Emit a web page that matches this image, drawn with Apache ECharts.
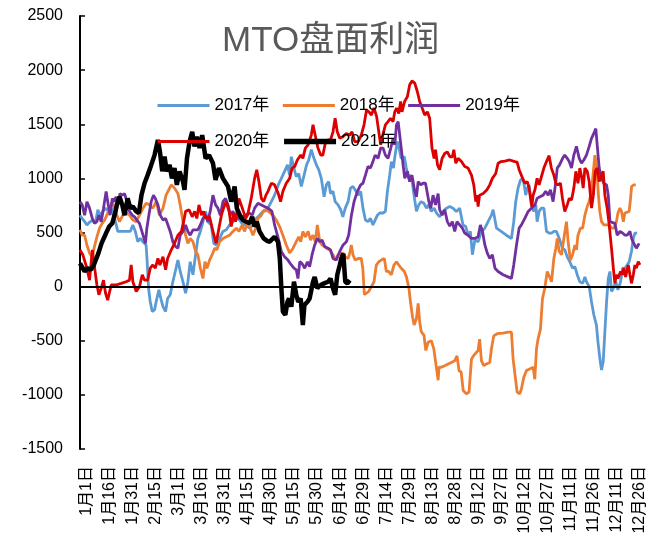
<!DOCTYPE html>
<html>
<head>
<meta charset="utf-8">
<script src="https://cdn.jsdelivr.net/npm/echarts@6/dist/echarts.min.js"></script>
<style>
  html, body { margin: 0; padding: 0; background: #fff; }
  #main { width: 665px; height: 545px; }
</style>
</head>
<body>
<div id="main"></div>
<script>
// x 轴刻度（以闰年为基准，每 15 天一个）
const tickLabels = ["1月1日", "1月16日", "1月31日", "2月15日", "3月1日", "3月16日", "3月31日",
  "4月15日", "4月30日", "5月15日", "5月30日", "6月14日", "6月29日", "7月14日", "7月29日",
  "8月13日", "8月28日", "9月12日", "9月27日", "10月12日", "10月27日", "11月11日", "11月26日",
  "12月11日", "12月26日"];

// [第几天, 利润]
const data2017 = [[0,660],[1.4,630],[3,600],[4.5,570],[6.2,595],[8.4,615],[10,585],[11.6,710],[13,660],[14.9,695],[16.6,725],[18.8,695],[20.3,725],[22.5,630],[24.6,510],[26.8,510],[30,510],[32.7,510],[34.4,570],[36,510],[37.6,415],[39.2,445],[40.9,415],[42,430],[43,385],[43.7,230],[44.6,-15],[45.7,-140],[47,-230],[48.5,-215],[50,-110],[51.3,-30],[52.6,-110],[54,-185],[55.7,-230],[57,-110],[58.7,-75],[60.4,45],[62,140],[63.7,245],[65.2,140],[67,45],[68.7,-60],[70.2,45],[71.7,230],[73.5,110],[75.2,295],[76.7,445],[78.3,510],[79.5,570],[81.7,695],[83.2,600],[85.4,570],[87,400],[88.7,385],[90.8,445],[93,510],[95.2,525],[97.3,570],[99.5,600],[101.7,630],[103.8,615],[106,570],[108,570],[110.4,540],[112.5,570],[114.7,630],[116.8,660],[119,695],[120.5,700],[122.3,725],[124.5,785],[126.6,845],[129,940],[131,1000],[133.1,1065],[135,1125],[136.4,1030],[137.5,1200],[139.2,1095],[140.7,1015],[142.3,1045],[144,925],[145.8,1030],[147.4,1125],[148.8,1170],[150.5,1265],[152.2,1185],[153.8,1125],[155.3,1080],[157,1000],[158.8,830],[160.3,940],[161.8,970],[163,860],[164.6,880],[166,785],[167.9,755],[169.6,710],[171,645],[172.6,725],[174.4,785],[176,910],[177.6,925],[179,895],[181,845],[182.6,880],[184.1,725],[185.7,615],[187.4,600],[189,630],[190.6,570],[191.7,555],[193.5,660],[195,680],[197.2,680],[198.7,695],[200,880],[201.5,1030],[202.6,1155],[203.9,1095],[205,1215],[206.5,1340],[207.6,1280],[209,1185],[211,1200],[212.3,1095],[213.8,1000],[215.6,1030],[217.3,845],[218.9,695],[220.4,755],[222,785],[223.8,770],[225.4,725],[226.9,755],[228.6,695],[230.4,725],[232,680],[234,645],[236.2,695],[238.4,725],[240.6,740],[242.7,725],[244.9,695],[247,725],[249.2,570],[251,555],[252.5,475],[254,510],[255.3,295],[256.9,430],[259,415],[261.2,510],[263.4,540],[265.5,600],[267.7,660],[268.8,710],[271,540],[274,510],[277.4,475],[280.7,445],[282.2,600],[283.5,785],[285,910],[286.6,985],[288,1000],[288.8,955],[290,845],[291,910],[292.2,940],[293.7,755],[295.3,695],[296.6,755],[297.4,600],[298.7,695],[300.2,725],[301.8,725],[303.5,510],[305.2,495],[306.8,495],[308.3,510],[310,510],[311.8,445],[313.9,355],[315.4,340],[317,275],[318.7,230],[320.5,170],[322,185],[323.5,110],[325.2,45],[327,30],[328.5,90],[329.5,45],[331.3,0],[332.8,-140],[334.3,-260],[336,-355],[337,-510],[338.2,-660],[339.3,-770],[340.4,-695],[341.5,-415],[342.6,-140],[343.7,75],[344.8,140],[345.8,-45],[347,-15],[348.6,45],[350,-30],[351.7,45],[353,170],[354.5,170],[356,200],[357.3,230],[358.8,325],[360,445],[361,495],[362.5,495]];

const data2018 = [[0,525],[1.4,475],[3,475],[4.5,385],[6.2,310],[8,275],[9.4,370],[11,460],[12.7,540],[14.4,585],[16,615],[17.5,660],[19.2,725],[21,785],[22.5,725],[24,660],[25.7,600],[27.9,660],[30,680],[32.2,660],[34.4,615],[36.6,600],[38.7,660],[41,725],[43,770],[45.3,755],[47.4,725],[49.6,785],[51.7,660],[54,725],[56,845],[58.3,910],[59.4,940],[61.5,910],[63.7,860],[65.2,755],[67,600],[68.7,475],[70.2,400],[71.7,445],[73.5,415],[75.2,325],[76.7,295],[78.3,170],[80,75],[81.3,230],[82.6,170],[84.3,245],[86,295],[87.6,355],[89,340],[90.8,415],[93,445],[95.2,460],[97.3,475],[99.5,510],[101.7,540],[103.4,510],[105.6,570],[107,510],[109.3,600],[110.8,540],[112.5,475],[114.3,540],[115.8,630],[118,660],[120,710],[122.7,695],[125.5,660],[127.7,615],[129.9,555],[132,475],[134.2,385],[136.4,310],[138.6,355],[140.7,415],[142.3,460],[143.6,415],[145,510],[146.6,460],[148.4,510],[150,430],[151.6,475],[153.1,415],[154.4,570],[156,415],[157.5,385],[158.8,400],[160.3,355],[162.4,340],[164.6,295],[166.1,245],[167.9,295],[169.6,310],[171,310],[172.6,275],[174.4,260],[175.5,310],[176.5,385],[177.6,295],[179,245],[181,260],[183,260],[184,170],[185,-75],[186.3,-90],[187.8,-45],[189.6,0],[191.3,45],[192.8,200],[194.4,230],[196,245],[198,260],[199.3,140],[200.8,140],[202.6,110],[204.3,200],[205.9,230],[207.4,200],[209,170],[211,140],[212.4,90],[214,-15],[215,-140],[216.3,-275],[217.4,-355],[218.9,-295],[220,-155],[221,-325],[222,-415],[223.8,-450],[225,-590],[226.5,-515],[228.6,-500],[230.2,-575],[232,-760],[233,-865],[233.6,-745],[235,-745],[237.3,-730],[239.5,-715],[241.6,-700],[243.8,-685],[245.3,-640],[246.6,-775],[248,-790],[249.3,-960],[251.4,-990],[253.1,-975],[254.7,-670],[256.2,-635],[257.5,-620],[259,-590],[260,-485],[261.2,-685],[262.7,-730],[264.4,-715],[266.6,-700],[267.7,-575],[269.2,-455],[271.4,-435],[275.3,-430],[278.5,-420],[280.7,-420],[281.8,-670],[282.9,-685],[284.4,-975],[286.1,-990],[287.2,-945],[288.7,-840],[290.5,-775],[292.6,-760],[294.8,-745],[295.9,-855],[297,-575],[298,-485],[299.6,-390],[300.9,-110],[302.4,-15],[304,140],[305.2,155],[306.8,45],[308.3,260],[309.6,355],[310.5,445],[311.8,325],[313.3,295],[314.8,445],[316.5,600],[317.6,415],[319,245],[320.5,295],[322,385],[323,340],[324,475],[325.6,540],[327,540],[328.5,660],[330,740],[331.3,785],[332.8,880],[334,1065],[335,1215],[336.2,1095],[337.3,845],[338.2,695],[339.3,600],[340.8,570],[342.6,570],[344.3,570],[345.8,540],[347.4,540],[349,600],[350,680],[351.3,725],[352.3,695],[353.5,600],[354.5,680],[355.6,695],[357.3,695],[358.2,815],[358.9,925],[360.3,940],[361.6,940]];

const data2019 = [[0,785],[1.4,755],[3,660],[4.5,785],[6.2,725],[8,630],[9.4,585],[11,600],[12.3,660],[13.8,600],[15.3,725],[17,880],[18.4,755],[19.6,660],[21,815],[22,785],[23.5,830],[24.6,755],[26,860],[27.5,845],[29,860],[30.5,785],[32.2,695],[34,660],[35.5,645],[37,615],[38.7,585],[41,475],[42.6,400],[43.5,540],[44.8,660],[46.3,785],[47.8,845],[49,815],[50.7,755],[52.2,660],[54,615],[55.7,630],[57.2,570],[58.7,510],[60.4,415],[62.2,370],[63.7,355],[65.2,475],[67,510],[68.7,570],[70.2,510],[71.7,475],[73.5,525],[75.2,525],[76.7,525],[78.3,570],[80,630],[81.7,660],[83.2,600],[84.7,695],[86.5,845],[88.2,755],[89.7,725],[91.3,660],[93,785],[94.7,815],[96.3,755],[97.8,660],[99.5,695],[101.2,645],[103.4,630],[105.6,645],[107.8,660],[110,680],[112.1,660],[113.6,725],[115.8,770],[118,755],[120,740],[122.3,725],[124.9,695],[126.6,570],[129,445],[131,325],[133.1,275],[135.3,245],[137.5,200],[139.2,170],[140.7,155],[141.8,75],[143,230],[144.4,215],[146.2,170],[148,230],[149.4,185],[151,295],[152.7,385],[154.4,445],[156,415],[157.5,430],[159.2,370],[161.4,355],[163,340],[164.6,260],[166.8,245],[169,325],[171.2,385],[173.3,415],[174.8,475],[176.6,660],[178.3,785],[180.5,880],[182.6,940],[184.1,955],[185.7,1030],[187.4,1110],[189,1095],[190.6,1155],[192,1215],[193.9,1185],[195.6,1280],[197.2,1280],[198.7,1215],[200.4,1185],[202.2,1280],[203.7,1370],[204.8,1310],[205.9,1495],[207,1525],[208,1510],[209,1280],[210.2,1125],[211.3,1000],[213,1065],[214.5,970],[216,1030],[217.8,880],[218.9,830],[220,970],[221.7,940],[223.2,955],[224.8,955],[226,970],[227,785],[228.2,725],[229.7,845],[231.3,755],[233,860],[234,710],[235.6,660],[237.3,710],[239,600],[240.6,560],[242.3,600],[243.8,510],[245.3,600],[247,570],[248.8,540],[250.3,495],[252.5,475],[254.7,445],[256.9,445],[259,460],[260.5,570],[261.9,510],[263.4,385],[265,310],[266.6,260],[268.3,295],[270,170],[272,140],[275.3,110],[278.5,90],[280.7,75],[282.2,200],[284,385],[285.7,540],[287.2,570],[289.4,630],[291.6,695],[293.7,725],[296,755],[297.4,815],[299.2,830],[301.3,845],[303,880],[304.6,845],[306.1,895],[307.8,785],[309.6,970],[310.5,1095],[312,1125],[314,1185],[315.4,1215],[317,1185],[318.3,1155],[319.8,1095],[321.3,1215],[323,1295],[324.8,1185],[326.3,1140],[327.8,1170],[329.5,1215],[331.3,1295],[332.8,1370],[334.3,1415],[335.6,1460],[336.5,1310],[337.8,1095],[339.3,1000],[340.8,955],[342.6,940],[343.7,845],[344.8,600],[345.8,585],[348,585],[349.5,475],[351.3,510],[353,495],[354.6,475],[356,475],[357.8,510],[358.9,445],[360.3,400],[362,355],[363.8,400]];

const data2020 = [[0,340],[1.8,295],[4.5,170],[6.2,60],[8,340],[9.4,185],[11,15],[12.3,-75],[13.8,-15],[15.3,60],[16.6,-60],[18,-125],[20.3,15],[23.5,15],[26.8,30],[30,45],[32.2,60],[33.3,200],[34.4,45],[36.6,-45],[38.7,0],[40.5,110],[42,60],[44,60],[45.7,170],[47.4,200],[49,170],[50.7,260],[52,200],[54,275],[55.7,155],[57,260],[59.4,340],[61.5,400],[63.7,475],[66,510],[67.4,600],[68.7,695],[71,710],[73,645],[74.6,695],[76,630],[77.4,755],[79,660],[80.4,695],[82,630],[84.3,645],[86.5,510],[88.6,400],[90.4,540],[92,660],[93.4,725],[95,785],[97,695],[98.4,555],[100,680],[101.2,600],[103.4,815],[105.6,725],[107.8,630],[109,660],[111.4,815],[113.6,1000],[115,1080],[116.4,970],[118,815],[119.5,785],[121,845],[122.3,880],[124.5,955],[126.6,940],[129,860],[130.5,785],[132,880],[134.2,955],[136.4,1000],[138,1095],[139.7,1110],[141.4,1170],[143.6,1215],[145,1185],[146.6,1280],[148.4,1310],[150.5,1400],[151.6,1495],[153,1400],[154.8,1280],[156.6,1215],[158,1215],[159.6,1325],[161.4,1355],[163,1355],[164.6,1430],[166,1555],[167.4,1430],[169,1370],[171,1385],[173.3,1415],[175.5,1400],[177,1430],[178.7,1340],[181,1340],[183,1400],[184.8,1495],[186.4,1630],[188,1615],[189.6,1585],[191.3,1650],[193,1570],[194.4,1430],[195.6,1310],[197,1400],[198.7,1495],[200.4,1525],[202,1555],[203.7,1525],[204.8,1615],[206,1650],[207.4,1600],[208.6,1710],[209.5,1615],[211.2,1710],[213,1755],[214.5,1865],[216,1900],[217.8,1880],[219.5,1800],[221,1710],[222.6,1650],[224.3,1585],[226,1615],[227.5,1555],[229,1280],[230.4,1185],[231.3,1265],[232.6,1125],[234,1080],[235.6,1185],[237.3,1230],[239,1245],[240.6,1200],[242.3,1200],[243.2,1265],[244.5,1140],[246,1185],[248.2,1155],[250.3,1110],[252.5,1095],[254.7,1030],[256.2,940],[257.5,785],[258.4,845],[259,740],[260,845],[262.3,860],[264.8,895],[266.6,940],[268.3,1000],[270.5,1045],[272,1140],[274,1155],[276.4,1160],[279.6,1170],[282.9,1155],[284.4,1150],[285.7,1080],[286.6,1095],[288,1000],[289.4,955],[291,970],[292.2,910],[293,830],[294,740],[294.8,845],[296,895],[297.4,1000],[298.7,940],[300.2,1015],[301.8,1095],[303.5,1155],[305.2,1210],[306.7,1095],[308.3,1030],[309.6,955],[311,940],[312.6,955],[313.9,815],[315.4,695],[317,755],[318.3,815],[319.8,800],[321.3,910],[322.6,1065],[324,955],[325.2,1095],[326.5,1000],[327.4,910],[328.5,1095],[330,1065],[331.3,970],[332.8,725],[334,845],[335.2,1065],[336.5,1095],[337.8,970],[339.3,1030],[340.4,1065],[341.5,845],[343,725],[344.3,570],[345.8,355],[347,170],[348,30],[349,110],[350,75],[351.7,140],[353,110],[353.8,170],[355,90],[356.7,200],[357.8,110],[358.8,30],[360,110],[361,200],[362,170],[363.2,230],[364.3,200]];

const data2021 = [[0,215],[3,140],[5,170],[7,155],[9,200],[12,310],[14,400],[17,495],[19,555],[21,585],[22.5,660],[24.5,785],[25.7,830],[27.5,755],[29,660],[31,815],[32.7,725],[34.4,740],[36.6,695],[38.3,680],[40,845],[42,955],[44,1030],[46,1110],[48.5,1215],[50.7,1355],[52,1245],[53.5,1065],[55,1200],[56.5,1065],[58.3,1125],[59.8,1000],[61.5,1095],[63,940],[64.8,1065],[67,970],[68,895],[69.6,1185],[71.3,1340],[73,1430],[74.5,1295],[76,1385],[77.8,1280],[79.5,1400],[81.7,1185],[84,1215],[86.5,1140],[88.2,985],[90.4,1095],[93,1000],[96.3,925],[98.4,785],[100.6,925],[102,725],[104,660],[106,615],[108,600],[110.4,585],[112,645],[113.6,555],[115,600],[116.8,510],[119.5,445],[122,420],[123.4,415],[126.6,460],[128.8,415],[130,260],[131,-15],[132,-230],[133.6,-260],[135,-140],[136,-110],[137.5,-185],[139.2,45],[140.7,-75],[142,-140],[143.6,-110],[145,-355],[146,-170],[148,-140],[149.4,-110],[151.6,45],[152.7,90],[154.4,-15],[156.6,15],[158.8,30],[161.4,45],[163,75],[164.6,-15],[166,-75],[167.4,110],[169,200],[170,260],[171.3,305],[172.6,45],[174,30],[175.5,60]];

const font = "'Liberation Sans', 'Noto Sans CJK SC', sans-serif";

const chart = echarts.init(document.getElementById("main"));

const makeLine = (name, data, color, width) => ({
  name: name,
  type: "line",
  data: data,
  symbol: "none",
  lineStyle: { color: color, width: width },
  itemStyle: { color: color },
  animation: false,
});

const series = [
  makeLine("2017年", data2017, "#5B9BD5", 2.8),
  makeLine("2018年", data2018, "#ED7D31", 2.8),
  makeLine("2019年", data2019, "#7030A0", 2.8),
  makeLine("2020年", data2020, "#DC0000", 2.8),
  makeLine("2021年", data2021, "#000000", 4.5),
];
// 零轴
series[0].markLine = {
  silent: true,
  symbol: "none",
  label: { show: false },
  lineStyle: { color: "#000", width: 2, type: "solid" },
  data: [{ yAxis: 0 }],
};

const legendBase = {
  orient: "horizontal",
  left: 156,
  padding: 0,
  itemWidth: 52,
  itemHeight: 14,
  itemGap: 12,
  itemStyle: { opacity: 0, borderWidth: 0 },
  lineStyle: { width: 3 },
  textStyle: { fontSize: 17, color: "#000", fontFamily: font },
};

const option = {
  backgroundColor: "#fff",
  animation: false,
  title: {
    text: "MTO盘面利润",
    left: 222,
    top: 24,
    padding: 0,
    textStyle: { fontSize: 35, color: "#595959", fontWeight: "normal", fontFamily: font },
  },
  legend: [
    Object.assign({}, legendBase, { top: 97, data: ["2017年", "2018年", "2019年"] }),
    Object.assign({}, legendBase, {
      top: 133,
      data: ["2020年", { name: "2021年", lineStyle: { width: 5.5 } }],
    }),
  ],
  grid: { left: 80, right: 24, top: 16, bottom: 96, containLabel: false },
  xAxis: {
    type: "value",
    min: 0,
    max: 365,
    interval: 15,
    axisLine: { show: false, onZero: false },
    axisTick: { show: false },
    splitLine: { show: false },
    axisLabel: {
      rotate: 90,
      margin: 17,
      verticalAlign: "top",
      lineHeight: 13,
      fontSize: 16,
      color: "#000",
      fontFamily: font,
      showMaxLabel: false,
      formatter: v => (v % 15 === 0 && tickLabels[v / 15]) || "",
    },
  },
  yAxis: {
    type: "value",
    min: -1500,
    max: 2500,
    interval: 500,
    axisLine: { show: true, onZero: false, lineStyle: { color: "#000", width: 2 } },
    axisTick: { show: true, inside: true, length: 5, lineStyle: { color: "#000", width: 1.5 } },
    splitLine: { show: false },
    axisLabel: { fontSize: 16, color: "#000", margin: 17, fontFamily: font, formatter: v => String(v) },
  },
  series: series,
};

chart.setOption(option);
</script>
</body>
</html>
